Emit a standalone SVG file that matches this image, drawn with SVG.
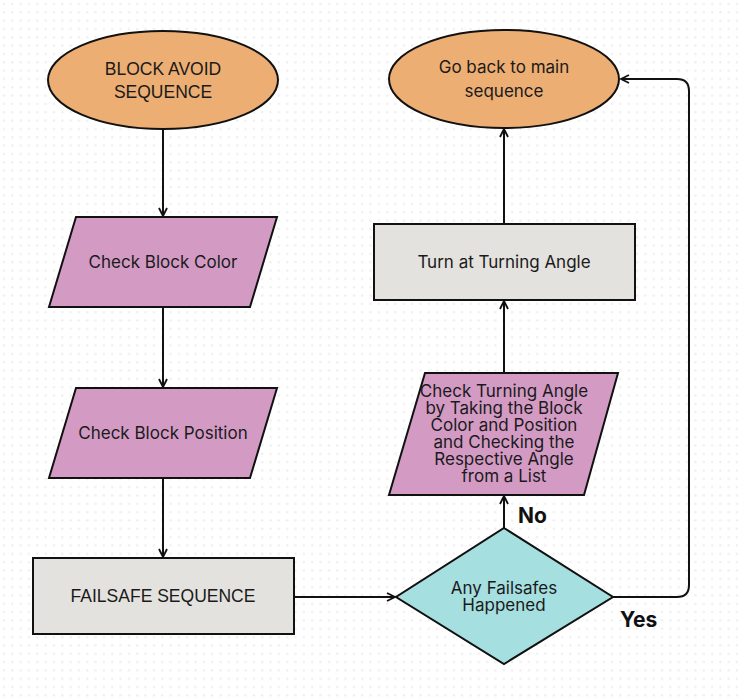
<svg xmlns="http://www.w3.org/2000/svg" width="738" height="700" viewBox="0 0 738 700">
<defs>
<pattern id="dots" width="8.33" height="8.33" patternUnits="userSpaceOnUse">
<rect x="3" y="3" width="2" height="2" fill="#ececec"/>
</pattern>
<marker id="arr" viewBox="0 0 10 10" refX="9" refY="5" markerWidth="10" markerHeight="10" markerUnits="userSpaceOnUse" orient="auto">
<path d="M1,1 L9,5 L1,9" fill="none" stroke="#111" stroke-width="1.8"/>
</marker>
</defs>
<style>
.n{stroke:#111;stroke-width:2}
.term{fill:#edae73}
.io{fill:#d39bc4}
.proc{fill:#e3e2de}
.dec{fill:#a6dfe0}
.t{font-family:Inter,"Liberation Sans",sans-serif;font-size:17px;fill:#1a1a1a;text-anchor:middle}
.a{font-family:"Liberation Sans",Arial,sans-serif;font-size:17.5px;fill:#1a1a1a;text-anchor:middle}
.lbl{font-family:Inter,"Liberation Sans",sans-serif;font-size:21px;font-weight:bold;fill:#111}
.c{fill:none;stroke:#111;stroke-width:2;marker-end:url(#arr)}
</style>
<rect width="738" height="700" fill="#ffffff"/>
<rect width="738" height="700" fill="url(#dots)"/>
<g id="connectors">
<line class="c" x1="163" y1="129" x2="163" y2="216"/>
<line class="c" x1="163" y1="307" x2="163" y2="387"/>
<line class="c" x1="163" y1="478" x2="163" y2="557"/>
<line class="c" x1="294" y1="597" x2="395" y2="597"/>
<line class="c" x1="504" y1="528" x2="504" y2="496"/>
<line class="c" x1="504" y1="373" x2="504" y2="301"/>
<line class="c" x1="504" y1="224" x2="504" y2="129"/>
<path class="c" d="M613,597 H677 Q689,597 689,585 V91 Q689,79 677,79 H621"/>
<text class="lbl" x="518" y="523">No</text>
<text class="lbl" x="620" y="627">Yes</text>
</g>
<g id="block-avoid">
<ellipse class="n term" cx="163" cy="80" rx="115" ry="49"/>
<text class="a" x="163" y="75">BLOCK AVOID</text>
<text class="a" x="163" y="98">SEQUENCE</text>
</g>
<g id="check-color">
<polygon class="n io" points="76,217 277,217 250,307 49,307"/>
<text class="t" x="163" y="268">Check Block Color</text>
</g>
<g id="check-position">
<polygon class="n io" points="76,388 277,388 250,478 49,478"/>
<text class="t" x="163" y="439">Check Block Position</text>
</g>
<g id="failsafe">
<rect class="n proc" x="33" y="558" width="261" height="76"/>
<text class="a" x="163" y="602">FAILSAFE SEQUENCE</text>
</g>
<g id="any-failsafes">
<polygon class="n dec" points="504,528 613,597 504,664 396,597"/>
<text class="t" x="504" y="594">Any Failsafes</text>
<text class="t" x="504" y="611">Happened</text>
</g>
<g id="check-angle">
<polygon class="n io" points="425,373 618,373 584,495 389,495"/>
<text class="t" x="504" y="397">Check Turning Angle</text>
<text class="t" x="504" y="414">by Taking the Block</text>
<text class="t" x="504" y="431">Color and Position</text>
<text class="t" x="504" y="448">and Checking the</text>
<text class="t" x="504" y="465">Respective Angle</text>
<text class="t" x="504" y="482">from a List</text>
</g>
<g id="turn">
<rect class="n proc" x="374" y="224" width="261" height="76"/>
<text class="t" x="504" y="268">Turn at Turning Angle</text>
</g>
<g id="go-back">
<ellipse class="n term" cx="504" cy="79" rx="115" ry="49"/>
<text class="t" x="504" y="73">Go back to main</text>
<text class="t" x="504" y="97">sequence</text>
</g>
</svg>
